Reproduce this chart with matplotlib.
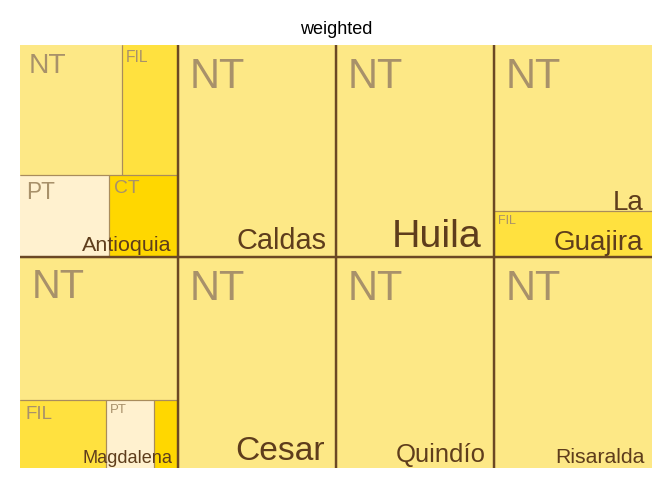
import matplotlib
matplotlib.use("Agg")
import matplotlib.pyplot as plt
from matplotlib.patches import Rectangle

plt.rcParams['font.family'] = ['Liberation Sans', 'DejaVu Sans']

# departments in layout order, each gets the same total weight
departments = ['Antioquia', 'Magdalena', 'Caldas', 'Cesar',
               'Huila', 'La Guajira', 'Quindío', 'Risaralda']
dept_weight = [1, 1, 1, 1, 1, 1, 1, 1]

# share of each category inside a department
categories = ['NT', 'FIL', 'PT', 'CT']
share_NT = [0.395, 0.680, 1.0, 1.0, 1.0, 0.787, 1.0, 1.0]
share_FIL = [0.219, 0.175, 0.0, 0.0, 0.0, 0.213, 0.0, 0.0]
share_PT = [0.217, 0.097, 0.0, 0.0, 0.0, 0.0, 0.0, 0.0]
share_CT = [0.169, 0.048, 0.0, 0.0, 0.0, 0.0, 0.0, 0.0]

fill = {'NT': '#FDE886', 'FIL': '#FFE13F', 'PT': '#FFF1CF', 'CT': '#FFD700'}
border = '#6B4824'
sub_border = '#A98C5C'
sub_text = '#A8916A'
grp_text = '#5E3D1C'
wrap = {'La Guajira'}

W, H = 632, 423  # panel size in px


def mean_ratio(row, side):
    s = sum(row)
    depth = s / side
    rs = []
    for v in row:
        l = v / depth
        rs.append(max(l / depth, depth / l))
    return sum(rs) / len(rs)


def squarify(vals, x, y, w, h):
    tot = sum(vals)
    areas = [v * w * h / tot for v in vals]
    out = []
    i = 0
    while i < len(areas):
        side = min(w, h)
        row = [areas[i]]
        best = mean_ratio(row, side)
        j = i + 1
        while j < len(areas):
            r = mean_ratio(row + [areas[j]], side)
            if r > best:
                break
            row.append(areas[j])
            best = r
            j += 1
        s = sum(row)
        if w >= h:
            cw = s / h
            yy = y
            for a in row:
                out.append((x, yy, cw, a / cw))
                yy += a / cw
            x += cw
            w -= cw
        else:
            rh = s / w
            xx = x
            for a in row:
                out.append((xx, y, a / rh, rh))
                xx += a / rh
            y += rh
            h -= rh
        i = j
    return out


def inner_edges(ax, r, color, lw):
    x, y, w, h = r
    eps = 0.5
    segs = [((x, x + w), (y, y), y > eps),
            ((x, x + w), (y + h, y + h), y + h < H - eps),
            ((x, x), (y, y + h), x > eps),
            ((x + w, x + w), (y, y + h), x + w < W - eps)]
    for xs, ys, ok in segs:
        if ok:
            ax.plot(xs, ys, color=color, lw=lw, solid_capstyle='butt', zorder=3 if lw > 1 else 2)


fig = plt.figure(figsize=(6.72, 4.8), dpi=100)
ax = fig.add_axes([20 / 672, 1 - 468 / 480, W / 672, H / 480])
ax.set_xlim(0, W)
ax.set_ylim(H, 0)
ax.axis('off')

shares = [share_NT, share_FIL, share_PT, share_CT]
groups = squarify(dept_weight, 0, 0, W, H)
renderer = fig.canvas.get_renderer()
px = 100 / 72.0

for d, name in enumerate(departments):
    gx, gy, gw, gh = groups[d]
    cats = [(categories[k], shares[k][d]) for k in range(4) if shares[k][d] > 0]
    cats.sort(key=lambda c: -c[1])
    tiles = squarify([c[1] for c in cats], gx, gy, gw, gh)
    for (cat, v), t in zip(cats, tiles):
        ax.add_patch(Rectangle((t[0], t[1]), t[2], t[3], facecolor=fill[cat],
                               edgecolor='none', zorder=1))
        inner_edges(ax, t, sub_border, 0.8)
        m = min(t[2], t[3])
        if m < 30:
            continue
        size = min(30, 0.2 * m)
        pad = 0.4 * size
        ax.text(t[0] + pad, t[1] + pad, cat, fontsize=size, color=sub_text,
                ha='left', va='top', zorder=4)
    inner_edges(ax, groups[d], border, 1.6)

    lines = name.split(' ') if name in wrap else [name]
    probe = ax.text(0, 0, max(lines, key=len), fontsize=10)
    wpx = probe.get_window_extent(renderer).width
    probe.remove()
    size = 10 * 90 / wpx
    xr = gx + gw - 0.45 * size
    yb = gy + gh - 0.35 * size
    step = 1.43 * size * px
    for k, ln in enumerate(reversed(lines)):
        ax.text(xr, yb - k * step, ln, fontsize=size, color=grp_text,
                ha='right', va='baseline', zorder=5)

fig.text(336 / 672, 1 - 34 / 480, 'weighted', fontsize=13, ha='center',
         va='baseline', color='black')

fig.savefig('out.png', dpi=100)
